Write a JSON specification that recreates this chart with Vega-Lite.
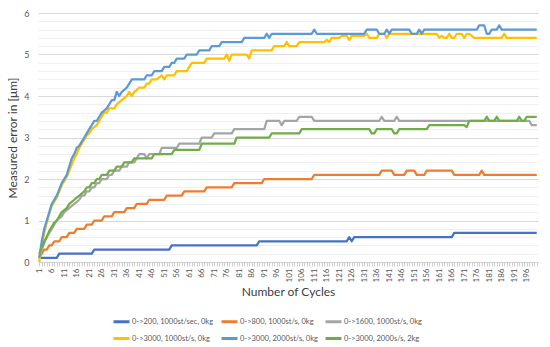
{
"$schema": "https://vega.github.io/schema/vega-lite/v6.json",
"width": 500, "height": 249,
"autosize": {"type": "none"},
"padding": {"left": 38, "top": 13, "right": 12, "bottom": 85},
"background": "white",
"config": {"view": {"stroke": null}, "font": "Lato"},
"data": {"values": [
{"c":1,"a":0.1,"b":0.1,"g":0.1,"y":0,"l":0.1,"n":0.2},
{"c":2,"a":0.1,"b":0.2,"g":0.3,"y":0.4,"l":0.5,"n":0.35},
{"c":3,"a":0.1,"b":0.3,"g":0.45,"y":0.7,"l":0.8,"n":0.5},
{"c":4,"a":0.1,"b":0.3,"g":0.6,"y":0.95,"l":1.0,"n":0.6},
{"c":5,"a":0.1,"b":0.4,"g":0.7,"y":1.15,"l":1.2,"n":0.75},
{"c":6,"a":0.1,"b":0.4,"g":0.8,"y":1.35,"l":1.4,"n":0.85},
{"c":7,"a":0.1,"b":0.5,"g":0.9,"y":1.45,"l":1.5,"n":0.95},
{"c":8,"a":0.1,"b":0.5,"g":1.0,"y":1.55,"l":1.6,"n":1.0},
{"c":9,"a":0.2,"b":0.5,"g":1.05,"y":1.7,"l":1.75,"n":1.1},
{"c":10,"a":0.2,"b":0.6,"g":1.1,"y":1.85,"l":1.9,"n":1.2},
{"c":11,"a":0.2,"b":0.6,"g":1.2,"y":1.95,"l":2.0,"n":1.25},
{"c":12,"a":0.2,"b":0.6,"g":1.25,"y":2.05,"l":2.1,"n":1.3},
{"c":13,"a":0.2,"b":0.7,"g":1.3,"y":2.2,"l":2.3,"n":1.4},
{"c":14,"a":0.2,"b":0.7,"g":1.35,"y":2.35,"l":2.5,"n":1.45},
{"c":15,"a":0.2,"b":0.7,"g":1.4,"y":2.5,"l":2.6,"n":1.5},
{"c":16,"a":0.2,"b":0.8,"g":1.45,"y":2.6,"l":2.75,"n":1.55},
{"c":17,"a":0.2,"b":0.8,"g":1.5,"y":2.75,"l":2.8,"n":1.6},
{"c":18,"a":0.2,"b":0.8,"g":1.6,"y":2.85,"l":2.9,"n":1.65},
{"c":19,"a":0.2,"b":0.8,"g":1.6,"y":2.95,"l":3.0,"n":1.7},
{"c":20,"a":0.2,"b":0.9,"g":1.7,"y":3.05,"l":3.1,"n":1.8},
{"c":21,"a":0.2,"b":0.9,"g":1.7,"y":3.1,"l":3.2,"n":1.8},
{"c":22,"a":0.2,"b":0.9,"g":1.8,"y":3.2,"l":3.3,"n":1.9},
{"c":23,"a":0.3,"b":1.0,"g":1.8,"y":3.25,"l":3.4,"n":1.9},
{"c":24,"a":0.3,"b":1.0,"g":1.9,"y":3.3,"l":3.4,"n":2.0},
{"c":25,"a":0.3,"b":1.0,"g":1.9,"y":3.4,"l":3.5,"n":2.0},
{"c":26,"a":0.3,"b":1.0,"g":2.0,"y":3.5,"l":3.6,"n":2.1},
{"c":27,"a":0.3,"b":1.1,"g":2.0,"y":3.6,"l":3.65,"n":2.1},
{"c":28,"a":0.3,"b":1.1,"g":2.0,"y":3.6,"l":3.7,"n":2.1},
{"c":29,"a":0.3,"b":1.1,"g":2.1,"y":3.7,"l":3.8,"n":2.2},
{"c":30,"a":0.3,"b":1.1,"g":2.1,"y":3.7,"l":3.9,"n":2.2},
{"c":31,"a":0.3,"b":1.2,"g":2.2,"y":3.7,"l":3.9,"n":2.2},
{"c":32,"a":0.3,"b":1.2,"g":2.2,"y":3.8,"l":4.1,"n":2.3},
{"c":33,"a":0.3,"b":1.2,"g":2.2,"y":3.85,"l":4.0,"n":2.3},
{"c":34,"a":0.3,"b":1.2,"g":2.3,"y":3.9,"l":4.1,"n":2.3},
{"c":35,"a":0.3,"b":1.2,"g":2.3,"y":3.95,"l":4.15,"n":2.4},
{"c":36,"a":0.3,"b":1.3,"g":2.3,"y":4.0,"l":4.2,"n":2.4},
{"c":37,"a":0.3,"b":1.3,"g":2.4,"y":4.1,"l":4.3,"n":2.4},
{"c":38,"a":0.3,"b":1.3,"g":2.4,"y":4.0,"l":4.4,"n":2.4},
{"c":39,"a":0.3,"b":1.3,"g":2.4,"y":4.1,"l":4.4,"n":2.5},
{"c":40,"a":0.3,"b":1.4,"g":2.5,"y":4.15,"l":4.4,"n":2.5},
{"c":41,"a":0.3,"b":1.4,"g":2.6,"y":4.2,"l":4.4,"n":2.5},
{"c":42,"a":0.3,"b":1.4,"g":2.6,"y":4.2,"l":4.4,"n":2.5},
{"c":43,"a":0.3,"b":1.4,"g":2.6,"y":4.2,"l":4.4,"n":2.5},
{"c":44,"a":0.3,"b":1.4,"g":2.5,"y":4.3,"l":4.5,"n":2.5},
{"c":45,"a":0.3,"b":1.5,"g":2.6,"y":4.3,"l":4.5,"n":2.5},
{"c":46,"a":0.3,"b":1.5,"g":2.6,"y":4.4,"l":4.5,"n":2.5},
{"c":47,"a":0.3,"b":1.5,"g":2.6,"y":4.4,"l":4.6,"n":2.6},
{"c":48,"a":0.3,"b":1.5,"g":2.6,"y":4.4,"l":4.6,"n":2.6},
{"c":49,"a":0.3,"b":1.5,"g":2.6,"y":4.45,"l":4.6,"n":2.6},
{"c":50,"a":0.3,"b":1.5,"g":2.75,"y":4.5,"l":4.6,"n":2.6},
{"c":51,"a":0.3,"b":1.5,"g":2.75,"y":4.4,"l":4.7,"n":2.6},
{"c":52,"a":0.3,"b":1.6,"g":2.75,"y":4.5,"l":4.7,"n":2.6},
{"c":53,"a":0.3,"b":1.6,"g":2.75,"y":4.5,"l":4.7,"n":2.6},
{"c":54,"a":0.4,"b":1.6,"g":2.75,"y":4.5,"l":4.8,"n":2.6},
{"c":55,"a":0.4,"b":1.6,"g":2.75,"y":4.5,"l":4.8,"n":2.7},
{"c":56,"a":0.4,"b":1.6,"g":2.75,"y":4.6,"l":4.9,"n":2.7},
{"c":57,"a":0.4,"b":1.6,"g":2.85,"y":4.6,"l":4.9,"n":2.7},
{"c":58,"a":0.4,"b":1.6,"g":2.85,"y":4.6,"l":4.9,"n":2.7},
{"c":59,"a":0.4,"b":1.7,"g":2.85,"y":4.6,"l":4.9,"n":2.7},
{"c":60,"a":0.4,"b":1.7,"g":2.85,"y":4.6,"l":5.0,"n":2.7},
{"c":61,"a":0.4,"b":1.7,"g":2.85,"y":4.7,"l":5.0,"n":2.7},
{"c":62,"a":0.4,"b":1.7,"g":2.85,"y":4.8,"l":5.0,"n":2.7},
{"c":63,"a":0.4,"b":1.7,"g":2.85,"y":4.8,"l":5.0,"n":2.7},
{"c":64,"a":0.4,"b":1.7,"g":2.85,"y":4.8,"l":5.0,"n":2.7},
{"c":65,"a":0.4,"b":1.7,"g":2.85,"y":4.8,"l":5.1,"n":2.7},
{"c":66,"a":0.4,"b":1.7,"g":3.0,"y":4.8,"l":5.1,"n":2.85},
{"c":67,"a":0.4,"b":1.7,"g":3.0,"y":4.8,"l":5.1,"n":2.85},
{"c":68,"a":0.4,"b":1.8,"g":3.0,"y":4.9,"l":5.1,"n":2.85},
{"c":69,"a":0.4,"b":1.8,"g":3.0,"y":4.9,"l":5.1,"n":2.85},
{"c":70,"a":0.4,"b":1.8,"g":3.0,"y":4.9,"l":5.2,"n":2.85},
{"c":71,"a":0.4,"b":1.8,"g":3.1,"y":4.9,"l":5.2,"n":2.85},
{"c":72,"a":0.4,"b":1.8,"g":3.1,"y":4.9,"l":5.2,"n":2.85},
{"c":73,"a":0.4,"b":1.8,"g":3.1,"y":4.9,"l":5.2,"n":2.85},
{"c":74,"a":0.4,"b":1.8,"g":3.1,"y":4.9,"l":5.3,"n":2.85},
{"c":75,"a":0.4,"b":1.8,"g":3.1,"y":4.9,"l":5.3,"n":2.85},
{"c":76,"a":0.4,"b":1.8,"g":3.1,"y":5.0,"l":5.3,"n":2.85},
{"c":77,"a":0.4,"b":1.8,"g":3.1,"y":4.85,"l":5.3,"n":2.85},
{"c":78,"a":0.4,"b":1.8,"g":3.1,"y":5.0,"l":5.3,"n":2.85},
{"c":79,"a":0.4,"b":1.9,"g":3.2,"y":5.0,"l":5.3,"n":2.85},
{"c":80,"a":0.4,"b":1.9,"g":3.2,"y":5.0,"l":5.3,"n":3.0},
{"c":81,"a":0.4,"b":1.9,"g":3.2,"y":5.0,"l":5.3,"n":3.0},
{"c":82,"a":0.4,"b":1.9,"g":3.2,"y":5.0,"l":5.3,"n":3.0},
{"c":83,"a":0.4,"b":1.9,"g":3.2,"y":5.0,"l":5.4,"n":3.0},
{"c":84,"a":0.4,"b":1.9,"g":3.2,"y":5.0,"l":5.4,"n":3.0},
{"c":85,"a":0.4,"b":1.9,"g":3.2,"y":4.9,"l":5.4,"n":3.0},
{"c":86,"a":0.4,"b":1.9,"g":3.2,"y":5.1,"l":5.4,"n":3.0},
{"c":87,"a":0.4,"b":1.9,"g":3.2,"y":5.1,"l":5.4,"n":3.0},
{"c":88,"a":0.4,"b":1.9,"g":3.2,"y":5.1,"l":5.4,"n":3.0},
{"c":89,"a":0.5,"b":1.9,"g":3.2,"y":5.1,"l":5.4,"n":3.0},
{"c":90,"a":0.5,"b":1.9,"g":3.2,"y":5.1,"l":5.4,"n":3.0},
{"c":91,"a":0.5,"b":2.0,"g":3.2,"y":5.1,"l":5.4,"n":3.0},
{"c":92,"a":0.5,"b":2.0,"g":3.4,"y":5.1,"l":5.5,"n":3.0},
{"c":93,"a":0.5,"b":2.0,"g":3.4,"y":5.1,"l":5.4,"n":3.0},
{"c":94,"a":0.5,"b":2.0,"g":3.4,"y":5.1,"l":5.5,"n":3.1},
{"c":95,"a":0.5,"b":2.0,"g":3.4,"y":5.2,"l":5.5,"n":3.1},
{"c":96,"a":0.5,"b":2.0,"g":3.4,"y":5.2,"l":5.5,"n":3.1},
{"c":97,"a":0.5,"b":2.0,"g":3.4,"y":5.2,"l":5.5,"n":3.1},
{"c":98,"a":0.5,"b":2.0,"g":3.3,"y":5.2,"l":5.5,"n":3.1},
{"c":99,"a":0.5,"b":2.0,"g":3.4,"y":5.2,"l":5.5,"n":3.1},
{"c":100,"a":0.5,"b":2.0,"g":3.4,"y":5.3,"l":5.5,"n":3.1},
{"c":101,"a":0.5,"b":2.0,"g":3.4,"y":5.2,"l":5.5,"n":3.1},
{"c":102,"a":0.5,"b":2.0,"g":3.4,"y":5.2,"l":5.5,"n":3.1},
{"c":103,"a":0.5,"b":2.0,"g":3.4,"y":5.2,"l":5.5,"n":3.1},
{"c":104,"a":0.5,"b":2.0,"g":3.4,"y":5.2,"l":5.5,"n":3.1},
{"c":105,"a":0.5,"b":2.0,"g":3.5,"y":5.3,"l":5.5,"n":3.1},
{"c":106,"a":0.5,"b":2.0,"g":3.5,"y":5.3,"l":5.5,"n":3.2},
{"c":107,"a":0.5,"b":2.0,"g":3.5,"y":5.3,"l":5.5,"n":3.2},
{"c":108,"a":0.5,"b":2.0,"g":3.5,"y":5.3,"l":5.5,"n":3.2},
{"c":109,"a":0.5,"b":2.0,"g":3.5,"y":5.3,"l":5.5,"n":3.2},
{"c":110,"a":0.5,"b":2.0,"g":3.5,"y":5.3,"l":5.5,"n":3.2},
{"c":111,"a":0.5,"b":2.1,"g":3.4,"y":5.3,"l":5.6,"n":3.2},
{"c":112,"a":0.5,"b":2.1,"g":3.4,"y":5.3,"l":5.5,"n":3.2},
{"c":113,"a":0.5,"b":2.1,"g":3.4,"y":5.3,"l":5.5,"n":3.2},
{"c":114,"a":0.5,"b":2.1,"g":3.4,"y":5.3,"l":5.5,"n":3.2},
{"c":115,"a":0.5,"b":2.1,"g":3.4,"y":5.3,"l":5.5,"n":3.2},
{"c":116,"a":0.5,"b":2.1,"g":3.4,"y":5.35,"l":5.5,"n":3.2},
{"c":117,"a":0.5,"b":2.1,"g":3.4,"y":5.3,"l":5.5,"n":3.2},
{"c":118,"a":0.5,"b":2.1,"g":3.4,"y":5.4,"l":5.5,"n":3.2},
{"c":119,"a":0.5,"b":2.1,"g":3.4,"y":5.4,"l":5.5,"n":3.2},
{"c":120,"a":0.5,"b":2.1,"g":3.4,"y":5.4,"l":5.5,"n":3.2},
{"c":121,"a":0.5,"b":2.1,"g":3.4,"y":5.4,"l":5.5,"n":3.2},
{"c":122,"a":0.5,"b":2.1,"g":3.4,"y":5.45,"l":5.5,"n":3.2},
{"c":123,"a":0.5,"b":2.1,"g":3.4,"y":5.45,"l":5.5,"n":3.2},
{"c":124,"a":0.5,"b":2.1,"g":3.4,"y":5.45,"l":5.5,"n":3.2},
{"c":125,"a":0.6,"b":2.1,"g":3.4,"y":5.35,"l":5.5,"n":3.2},
{"c":126,"a":0.5,"b":2.1,"g":3.4,"y":5.45,"l":5.5,"n":3.2},
{"c":127,"a":0.6,"b":2.1,"g":3.4,"y":5.45,"l":5.5,"n":3.2},
{"c":128,"a":0.6,"b":2.1,"g":3.4,"y":5.45,"l":5.5,"n":3.2},
{"c":129,"a":0.6,"b":2.1,"g":3.4,"y":5.45,"l":5.5,"n":3.2},
{"c":130,"a":0.6,"b":2.1,"g":3.4,"y":5.45,"l":5.5,"n":3.2},
{"c":131,"a":0.6,"b":2.1,"g":3.4,"y":5.45,"l":5.5,"n":3.2},
{"c":132,"a":0.6,"b":2.1,"g":3.4,"y":5.5,"l":5.6,"n":3.2},
{"c":133,"a":0.6,"b":2.1,"g":3.4,"y":5.4,"l":5.6,"n":3.2},
{"c":134,"a":0.6,"b":2.1,"g":3.4,"y":5.4,"l":5.6,"n":3.1},
{"c":135,"a":0.6,"b":2.1,"g":3.4,"y":5.4,"l":5.6,"n":3.1},
{"c":136,"a":0.6,"b":2.1,"g":3.4,"y":5.4,"l":5.6,"n":3.2},
{"c":137,"a":0.6,"b":2.1,"g":3.4,"y":5.5,"l":5.5,"n":3.2},
{"c":138,"a":0.6,"b":2.2,"g":3.5,"y":5.5,"l":5.5,"n":3.2},
{"c":139,"a":0.6,"b":2.2,"g":3.4,"y":5.5,"l":5.5,"n":3.2},
{"c":140,"a":0.6,"b":2.2,"g":3.4,"y":5.4,"l":5.6,"n":3.2},
{"c":141,"a":0.6,"b":2.2,"g":3.4,"y":5.5,"l":5.5,"n":3.2},
{"c":142,"a":0.6,"b":2.2,"g":3.4,"y":5.5,"l":5.6,"n":3.2},
{"c":143,"a":0.6,"b":2.1,"g":3.4,"y":5.5,"l":5.6,"n":3.1},
{"c":144,"a":0.6,"b":2.1,"g":3.5,"y":5.5,"l":5.6,"n":3.1},
{"c":145,"a":0.6,"b":2.1,"g":3.4,"y":5.5,"l":5.6,"n":3.2},
{"c":146,"a":0.6,"b":2.1,"g":3.4,"y":5.5,"l":5.6,"n":3.2},
{"c":147,"a":0.6,"b":2.1,"g":3.4,"y":5.5,"l":5.6,"n":3.2},
{"c":148,"a":0.6,"b":2.2,"g":3.4,"y":5.5,"l":5.6,"n":3.2},
{"c":149,"a":0.6,"b":2.2,"g":3.4,"y":5.5,"l":5.6,"n":3.2},
{"c":150,"a":0.6,"b":2.2,"g":3.4,"y":5.5,"l":5.5,"n":3.2},
{"c":151,"a":0.6,"b":2.2,"g":3.4,"y":5.5,"l":5.5,"n":3.2},
{"c":152,"a":0.6,"b":2.1,"g":3.4,"y":5.5,"l":5.5,"n":3.2},
{"c":153,"a":0.6,"b":2.1,"g":3.4,"y":5.5,"l":5.6,"n":3.2},
{"c":154,"a":0.6,"b":2.1,"g":3.4,"y":5.5,"l":5.5,"n":3.2},
{"c":155,"a":0.6,"b":2.1,"g":3.4,"y":5.5,"l":5.6,"n":3.2},
{"c":156,"a":0.6,"b":2.2,"g":3.4,"y":5.5,"l":5.6,"n":3.2},
{"c":157,"a":0.6,"b":2.2,"g":3.4,"y":5.5,"l":5.6,"n":3.3},
{"c":158,"a":0.6,"b":2.2,"g":3.4,"y":5.5,"l":5.6,"n":3.3},
{"c":159,"a":0.6,"b":2.2,"g":3.4,"y":5.5,"l":5.6,"n":3.3},
{"c":160,"a":0.6,"b":2.2,"g":3.4,"y":5.5,"l":5.6,"n":3.3},
{"c":161,"a":0.6,"b":2.2,"g":3.4,"y":5.4,"l":5.6,"n":3.3},
{"c":162,"a":0.6,"b":2.2,"g":3.4,"y":5.45,"l":5.6,"n":3.3},
{"c":163,"a":0.6,"b":2.2,"g":3.4,"y":5.4,"l":5.6,"n":3.3},
{"c":164,"a":0.6,"b":2.2,"g":3.4,"y":5.4,"l":5.6,"n":3.3},
{"c":165,"a":0.6,"b":2.2,"g":3.4,"y":5.5,"l":5.6,"n":3.3},
{"c":166,"a":0.6,"b":2.2,"g":3.4,"y":5.4,"l":5.6,"n":3.3},
{"c":167,"a":0.7,"b":2.1,"g":3.4,"y":5.4,"l":5.6,"n":3.3},
{"c":168,"a":0.7,"b":2.1,"g":3.4,"y":5.5,"l":5.6,"n":3.3},
{"c":169,"a":0.7,"b":2.1,"g":3.4,"y":5.5,"l":5.6,"n":3.3},
{"c":170,"a":0.7,"b":2.1,"g":3.4,"y":5.5,"l":5.6,"n":3.3},
{"c":171,"a":0.7,"b":2.1,"g":3.4,"y":5.4,"l":5.6,"n":3.3},
{"c":172,"a":0.7,"b":2.1,"g":3.4,"y":5.5,"l":5.6,"n":3.25},
{"c":173,"a":0.7,"b":2.1,"g":3.4,"y":5.5,"l":5.6,"n":3.4},
{"c":174,"a":0.7,"b":2.1,"g":3.4,"y":5.45,"l":5.6,"n":3.4},
{"c":175,"a":0.7,"b":2.1,"g":3.4,"y":5.4,"l":5.6,"n":3.4},
{"c":176,"a":0.7,"b":2.1,"g":3.4,"y":5.4,"l":5.6,"n":3.4},
{"c":177,"a":0.7,"b":2.1,"g":3.4,"y":5.4,"l":5.7,"n":3.4},
{"c":178,"a":0.7,"b":2.2,"g":3.4,"y":5.4,"l":5.7,"n":3.4},
{"c":179,"a":0.7,"b":2.1,"g":3.4,"y":5.4,"l":5.7,"n":3.4},
{"c":180,"a":0.7,"b":2.1,"g":3.4,"y":5.4,"l":5.5,"n":3.5},
{"c":181,"a":0.7,"b":2.1,"g":3.4,"y":5.4,"l":5.5,"n":3.4},
{"c":182,"a":0.7,"b":2.1,"g":3.4,"y":5.4,"l":5.6,"n":3.4},
{"c":183,"a":0.7,"b":2.1,"g":3.4,"y":5.4,"l":5.6,"n":3.4},
{"c":184,"a":0.7,"b":2.1,"g":3.4,"y":5.4,"l":5.6,"n":3.5},
{"c":185,"a":0.7,"b":2.1,"g":3.4,"y":5.4,"l":5.7,"n":3.4},
{"c":186,"a":0.7,"b":2.1,"g":3.4,"y":5.4,"l":5.6,"n":3.4},
{"c":187,"a":0.7,"b":2.1,"g":3.4,"y":5.5,"l":5.6,"n":3.4},
{"c":188,"a":0.7,"b":2.1,"g":3.4,"y":5.4,"l":5.6,"n":3.4},
{"c":189,"a":0.7,"b":2.1,"g":3.4,"y":5.4,"l":5.6,"n":3.4},
{"c":190,"a":0.7,"b":2.1,"g":3.4,"y":5.4,"l":5.6,"n":3.4},
{"c":191,"a":0.7,"b":2.1,"g":3.4,"y":5.4,"l":5.6,"n":3.4},
{"c":192,"a":0.7,"b":2.1,"g":3.4,"y":5.4,"l":5.6,"n":3.4},
{"c":193,"a":0.7,"b":2.1,"g":3.4,"y":5.4,"l":5.6,"n":3.5},
{"c":194,"a":0.7,"b":2.1,"g":3.4,"y":5.4,"l":5.6,"n":3.4},
{"c":195,"a":0.7,"b":2.1,"g":3.4,"y":5.4,"l":5.6,"n":3.4},
{"c":196,"a":0.7,"b":2.1,"g":3.4,"y":5.4,"l":5.6,"n":3.5},
{"c":197,"a":0.7,"b":2.1,"g":3.4,"y":5.4,"l":5.6,"n":3.5},
{"c":198,"a":0.7,"b":2.1,"g":3.3,"y":5.4,"l":5.6,"n":3.5},
{"c":199,"a":0.7,"b":2.1,"g":3.3,"y":5.4,"l":5.6,"n":3.5},
{"c":200,"a":0.7,"b":2.1,"g":3.3,"y":5.4,"l":5.6,"n":3.5}
]},
"transform": [
  {"fold": ["a","b","g","y","l","n"], "as": ["k","v"]},
  {"lookup": "k", "from": {"data": {"values": [
    {"k":"a","s":"0->200, 1000st/sec, 0kg"},
    {"k":"b","s":"0->800, 1000st/s, 0kg"},
    {"k":"g","s":"0->1600, 1000st/s, 0kg"},
    {"k":"y","s":"0->3000, 1000st/s, 0kg"},
    {"k":"l","s":"0->3000, 2000st/s, 0kg"},
    {"k":"n","s":"0->3000, 2000s/s, 2kg"}
  ]}, "key": "k", "fields": ["s"]}}
],
"mark": {"type": "line", "strokeWidth": 2.25, "strokeJoin": "round"},
"encoding": {
  "x": {"field": "c", "type": "quantitative",
    "scale": {"domain": [0.5, 200.5], "nice": false, "zero": false},
    "axis": {"tickCount": 200, "labelExpr": "(datum.value - 1) % 5 === 0 ? datum.label : ''",
      "labelAngle": -90, "labelFontSize": 8, "labelColor": "#595959", "labelOverlap": false, "labelFlush": false,
      "labelPadding": 2, "tickColor": "#d0d0d0", "tickSize": 4, "domainColor": "#d0d0d0", "grid": false,
      "title": "Number of Cycles", "titleFontSize": 12, "titleFontWeight": "normal", "titleColor": "#404040", "titlePadding": 5}},
  "y": {"field": "v", "type": "quantitative",
    "scale": {"domain": [0, 6], "nice": false},
    "axis": {"values": [0,0.2,0.4,0.6,0.8,1,1.2,1.4,1.6,1.8,2,2.2,2.4,2.6,2.8,3,3.2,3.4,3.6,3.8,4,4.2,4.4,4.6,4.8,5,5.2,5.4,5.6,5.8,6],
      "labelExpr": "datum.value % 1 === 0 ? format(datum.value, 'd') : ''",
      "gridColor": {"condition": {"test": "datum.value % 1 === 0", "value": "#d9d9d9"}, "value": "#f0f0f0"},
      "ticks": false, "domain": false, "labelFontSize": 9, "labelColor": "#595959", "labelPadding": 9,
      "title": "Measured error in [μm]", "titleFontSize": 12, "titleFontWeight": "normal", "titleColor": "#404040", "titlePadding": 4}},
  "color": {"field": "s", "type": "nominal",
    "scale": {"domain": ["0->200, 1000st/sec, 0kg","0->800, 1000st/s, 0kg","0->1600, 1000st/s, 0kg","0->3000, 1000st/s, 0kg","0->3000, 2000st/s, 0kg","0->3000, 2000s/s, 2kg"],
      "range": ["#4472C4","#ED7D31","#A5A5A5","#FFC000","#5B9BD5","#70AD47"]},
    "legend": {"orient": "none", "legendX": 74, "legendY": 299, "columns": 3, "direction": "horizontal", "title": null,
      "symbolType": "stroke", "symbolStrokeWidth": 3, "symbolSize": 256, "labelFontSize": 7.5, "labelColor": "#595959",
      "rowPadding": 1, "columnPadding": 1, "labelLimit": 200, "labelOffset": 1}}
}
}
